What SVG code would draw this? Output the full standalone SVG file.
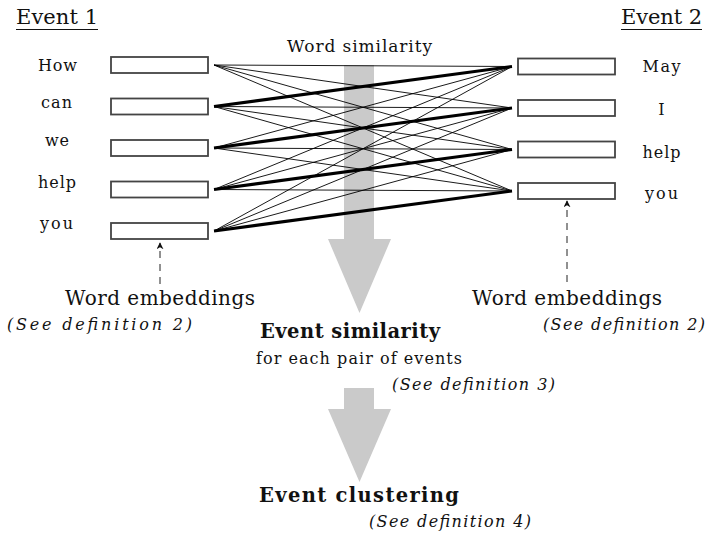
<svg xmlns="http://www.w3.org/2000/svg" width="707" height="545" viewBox="0 0 707 545" font-family="'DejaVu Serif', 'Liberation Serif', serif">
  <style>
    text { font-family: "DejaVu Serif", "Liberation Serif", serif; fill: #111; }
    .word { font-size: 16px; text-anchor: middle; }
    .head { font-size: 21px; }
    .big { font-size: 20px; }
    .ref { font-size: 16px; font-style: italic; }
    .bold { font-size: 19.5px; font-weight: bold; }
    .mid { font-size: 16px; }
    .emb { fill: #fff; stroke: #444; stroke-width: 1.8; }
    .flow { fill: #cacaca; stroke: none; }
    .thin { stroke: #000; stroke-width: 0.9; fill: none; }
    .thick { stroke: #000; stroke-width: 3; fill: none; }
    .dash { stroke: #222; stroke-width: 1; stroke-dasharray: 7 6; fill: none; }
    .rule { stroke: #111; stroke-width: 1; }
  </style>
  <defs>
    <marker id="tip" viewBox="0 0 10 10" refX="9" refY="5" markerWidth="7" markerHeight="7" orient="auto" markerUnits="userSpaceOnUse">
      <path d="M0,0 L10,5 L0,10 L3,5 Z" fill="#111"/>
    </marker>
  </defs>

  <!-- big grey process arrows -->
  <g id="flow-word-to-event">
    <path class="flow" d="M344,65 H374 V239 H391 L359.5,313 L328,239 H344 Z"/>
  </g>
  <g id="flow-event-to-cluster">
    <path class="flow" d="M344,388 H374 V409 H391 L359.5,482 L328,409 H344 Z"/>
  </g>

  <!-- headings -->
  <g id="event1-title">
    <text class="head" x="16" y="24" textLength="82">Event 1</text>
    <line class="rule" x1="16" y1="29.5" x2="98" y2="29.5"/>
  </g>
  <g id="event2-title">
    <text class="head" x="621" y="24" textLength="81">Event 2</text>
    <line class="rule" x1="621" y1="29.5" x2="702" y2="29.5"/>
  </g>
  <g id="word-similarity-label">
    <text x="287" y="52" font-size="17" textLength="145">Word similarity</text>
  </g>

  <!-- pairwise word similarity connectors -->
  <g id="connectors">
    <!-- How -->
    <line class="thin" x1="214" y1="65" x2="512" y2="66.5"/>
    <line class="thin" x1="214" y1="65" x2="512" y2="108"/>
    <line class="thin" x1="214" y1="65" x2="512" y2="149.5"/>
    <line class="thin" x1="214" y1="65" x2="512" y2="191"/>
    <!-- can -->
    <line class="thick" x1="214" y1="106.5" x2="512" y2="66.5"/>
    <line class="thin" x1="214" y1="106.5" x2="512" y2="108"/>
    <line class="thin" x1="214" y1="106.5" x2="512" y2="149.5"/>
    <line class="thin" x1="214" y1="106.5" x2="512" y2="191"/>
    <!-- we -->
    <line class="thin" x1="214" y1="148" x2="512" y2="66.5"/>
    <line class="thick" x1="214" y1="148" x2="512" y2="108"/>
    <line class="thin" x1="214" y1="148" x2="512" y2="149.5"/>
    <line class="thin" x1="214" y1="148" x2="512" y2="191"/>
    <!-- help -->
    <line class="thin" x1="214" y1="189.5" x2="512" y2="66.5"/>
    <line class="thin" x1="214" y1="189.5" x2="512" y2="108"/>
    <line class="thick" x1="214" y1="189.5" x2="512" y2="149.5"/>
    <line class="thin" x1="214" y1="189.5" x2="512" y2="191"/>
    <!-- you -->
    <line class="thin" x1="214" y1="231" x2="512" y2="66.5"/>
    <line class="thin" x1="214" y1="231" x2="512" y2="108"/>
    <line class="thin" x1="214" y1="231" x2="512" y2="149.5"/>
    <line class="thick" x1="214" y1="231" x2="512" y2="191"/>
    <!-- embedding pointers -->
    <line class="dash" x1="160" y1="284" x2="160" y2="243" marker-end="url(#tip)"/>
    <line class="dash" x1="567" y1="282" x2="567" y2="201" marker-end="url(#tip)"/>
  </g>

  <!-- event 1 words -->
  <g id="e1-how">
    <rect class="emb" x="111" y="57" width="97" height="16"/>
    <text class="word" x="57.5" y="71" textLength="39">How</text>
  </g>
  <g id="e1-can">
    <rect class="emb" x="111" y="98.5" width="97" height="16"/>
    <text class="word" x="56.5" y="108" textLength="31">can</text>
  </g>
  <g id="e1-we">
    <rect class="emb" x="111" y="140" width="97" height="16"/>
    <text class="word" x="57" y="146" textLength="24">we</text>
  </g>
  <g id="e1-help">
    <rect class="emb" x="111" y="181.5" width="97" height="16"/>
    <text class="word" x="57" y="188" textLength="38">help</text>
  </g>
  <g id="e1-you">
    <rect class="emb" x="111" y="223" width="97" height="16"/>
    <text class="word" x="56.5" y="229" textLength="33">you</text>
  </g>

  <!-- event 2 words -->
  <g id="e2-may">
    <rect class="emb" x="518" y="58.5" width="97" height="16"/>
    <text class="word" x="661.5" y="72" textLength="38">May</text>
  </g>
  <g id="e2-i">
    <rect class="emb" x="518" y="100" width="97" height="16"/>
    <text class="word" x="661.5" y="115">I</text>
  </g>
  <g id="e2-help">
    <rect class="emb" x="518" y="141.5" width="97" height="16"/>
    <text class="word" x="661.5" y="158" textLength="38">help</text>
  </g>
  <g id="e2-you">
    <rect class="emb" x="518" y="183" width="97" height="16"/>
    <text class="word" x="661.5" y="199" textLength="33">you</text>
  </g>

  <!-- embedding captions -->
  <g id="embeddings-left">
    <text class="big" x="65" y="305" textLength="190">Word embeddings</text>
    <text class="ref" x="7" y="330" textLength="185">(See definition 2)</text>
  </g>
  <g id="embeddings-right">
    <text class="big" x="472" y="305" textLength="190">Word embeddings</text>
    <text class="ref" x="543" y="330" textLength="162">(See definition 2)</text>
  </g>

  <!-- pipeline stages -->
  <g id="event-similarity">
    <text class="bold" x="260" y="338" textLength="180">Event similarity</text>
    <text class="mid" x="256" y="364" textLength="206">for each pair of events</text>
    <text class="ref" x="392" y="390" textLength="163">(See definition 3)</text>
  </g>
  <g id="event-clustering">
    <text class="bold" x="259" y="502" textLength="200">Event clustering</text>
    <text class="ref" x="369" y="527" textLength="162">(See definition 4)</text>
  </g>
</svg>
